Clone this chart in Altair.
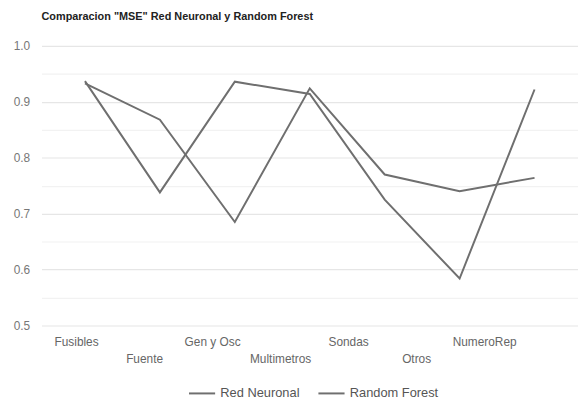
import altair as alt
import pandas as pd

categories = ["Fusibles", "Fuente", "Gen y Osc", "Multimetros", "Sondas", "Otros", "NumeroRep"]
red_neuronal = [0.933, 0.868, 0.685, 0.924, 0.770, 0.740, 0.764]
random_forest = [0.937, 0.738, 0.936, 0.914, 0.725, 0.584, 0.922]
series_names = ["Red Neuronal", "Random Forest"]
y_ticks = [0.5, 0.55, 0.6, 0.65, 0.7, 0.75, 0.8, 0.85, 0.9, 0.95, 1.0]

rows = []
for name, vals in zip(series_names, [red_neuronal, random_forest]):
    for i, (c, v) in enumerate(zip(categories, vals)):
        rows.append({"cat": c, "val": v, "serie": name, "ord": i})
df = pd.DataFrame(rows)

chart = alt.Chart(df).mark_line(strokeWidth=2, interpolate="linear").encode(
    x=alt.X("cat:N", sort=categories,
            scale=alt.Scale(type="point", padding=0.58),
            axis=alt.Axis(title=None, domain=False, ticks=False, grid=False,
                          labelAngle=0, labelFontSize=12, labelColor="#666666",
                          labelFont="Liberation Sans", labelBaseline="top",
                          labelAlign="center",
                          labelOffset=alt.ExprRef("-(9 + 42*datum.index)"),
                          labelPadding=alt.ExprRef("round(datum.index*6) % 2 == 1 ? 28 : 11"))),
    y=alt.Y("val:Q", scale=alt.Scale(domain=[0.5, 1.0], nice=False, zero=False),
            axis=alt.Axis(title=None, domain=False, ticks=False, values=y_ticks,
                          labelExpr="round(datum.value*100) % 10 == 0 ? format(datum.value, '.1f') : ''",
                          gridColor=alt.ExprRef("round(datum.value*100) % 10 == 0 ? '#e6e6e6' : '#f2f2f2'"),
                          gridWidth=1.2,
                          labelFontSize=12, labelColor="#777777", labelFont="Liberation Sans",
                          labelPadding=12)),
    color=alt.Color("serie:N", sort=series_names,
                    scale=alt.Scale(domain=series_names, range=["#6f6f6f", "#6f6f6f"]),
                    legend=alt.Legend(title=None, orient="none", direction="horizontal",
                                      legendX=148, legendY=337, symbolType="stroke",
                                      symbolStrokeWidth=2, symbolSize=700,
                                      labelFontSize=13, labelColor="#555555",
                                      labelFont="Liberation Sans", columnPadding=14,
                                      labelOffset=4, padding=0)),
    order="ord:Q",
).properties(
    width=543, height=283,
    title=alt.TitleParams(text='Comparacion "MSE" Red Neuronal y Random Forest',
                          anchor="start", frame="group", offset=18,
                          fontSize=11, fontWeight="bold", color="#222222",
                          font="Liberation Sans"),
    autosize=alt.AutoSizeParams(type="none"),
    padding={"left": 42, "top": 44, "right": 0, "bottom": 76},
).configure_view(stroke=None)

chart.save("out.html", embed_options={"renderer": "svg", "actions": False})
